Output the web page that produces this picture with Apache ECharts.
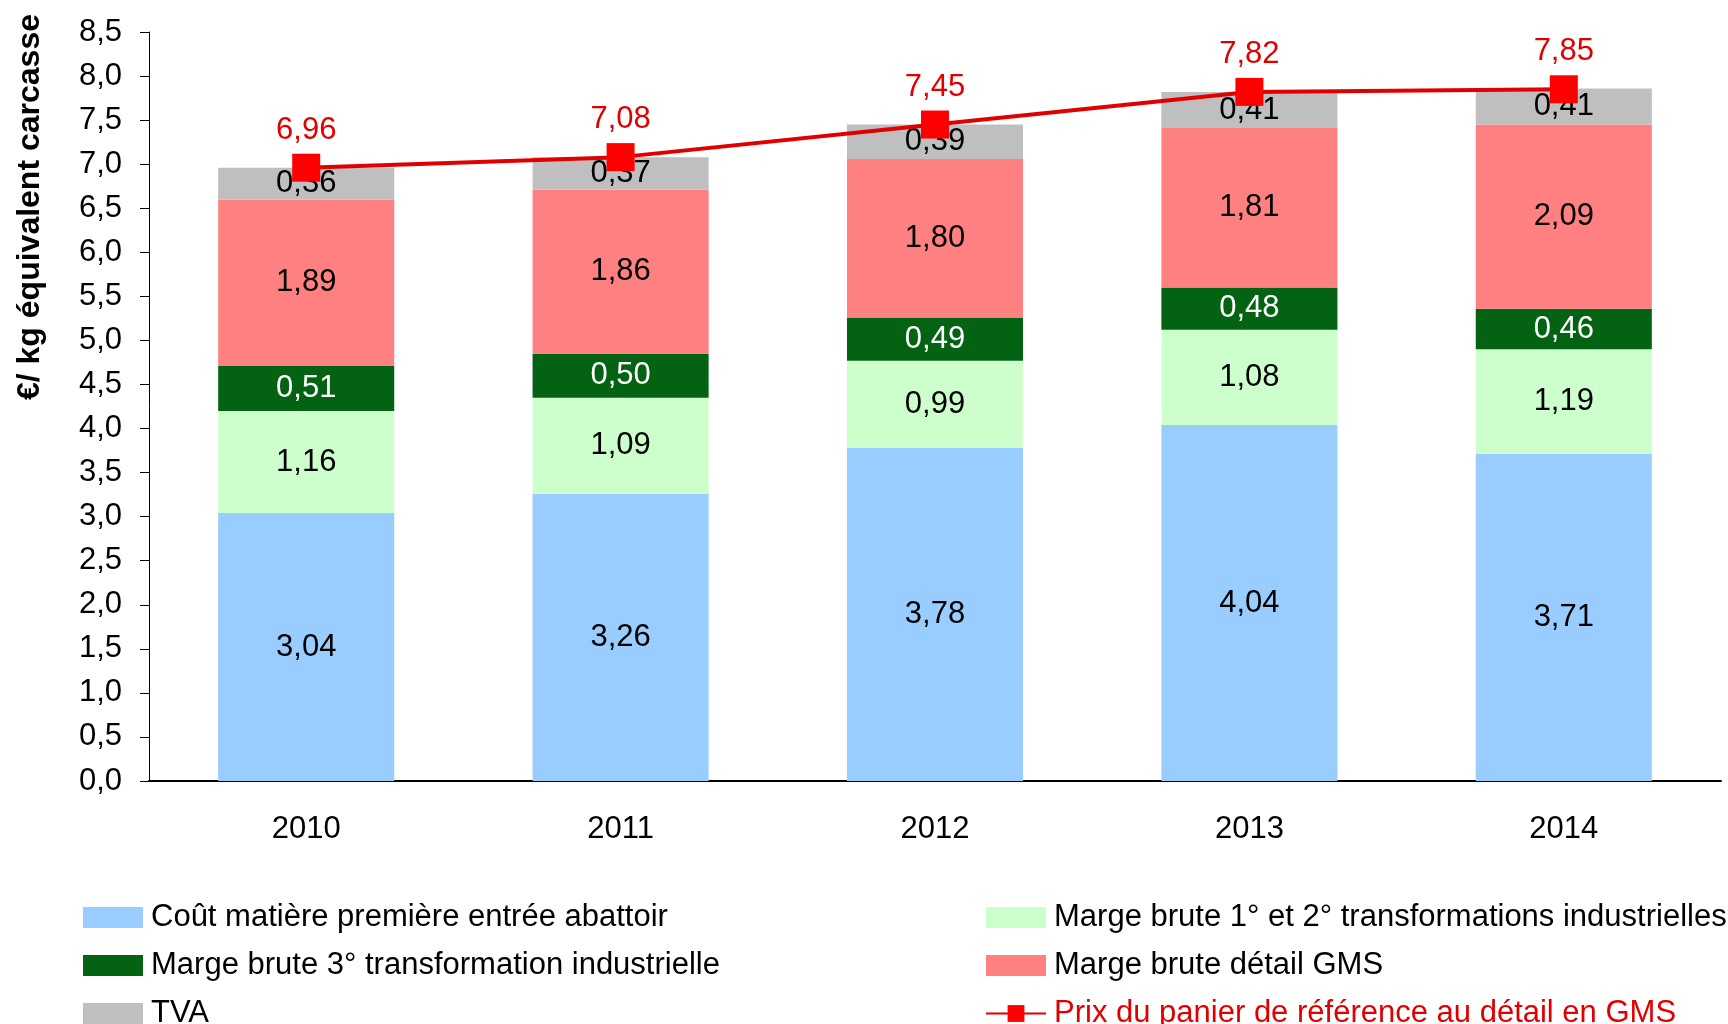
<!DOCTYPE html>
<html>
<head>
<meta charset="utf-8">
<script src="https://cdn.jsdelivr.net/npm/echarts@6/dist/echarts.min.js"></script>
<style>
  html, body { margin: 0; padding: 0; background: #fff; }
  #main { width: 1728px; height: 1024px; }
</style>
</head>
<body>
<div id="main"></div>
<script>
var years = ['2010', '2011', '2012', '2013', '2014'];
var coutMatiere = [3.04, 3.26, 3.78, 4.04, 3.71];
var marge12 = [1.16, 1.09, 0.99, 1.08, 1.19];
var marge3 = [0.51, 0.50, 0.49, 0.48, 0.46];
var margeGMS = [1.89, 1.86, 1.80, 1.81, 2.09];
var tva = [0.36, 0.37, 0.39, 0.41, 0.41];
var prixPanier = [6.96, 7.08, 7.45, 7.82, 7.85];

var FONT = '"Liberation Sans", Arial, sans-serif';

function fr(v, d) {
  return v.toFixed(d).replace('.', ',');
}

function barSerie(name, data, color, labelColor) {
  return {
    name: name,
    type: 'bar',
    stack: 'total',
    barWidth: '56%',
    itemStyle: { color: color },
    label: {
      show: true,
      position: 'inside',
      color: labelColor,
      fontSize: 31,
      fontFamily: FONT,
      formatter: function (p) { return fr(p.value, 2); }
    },
    data: data
  };
}

function legendBox(left, items) {
  return {
    orient: 'vertical',
    left: left,
    top: 902,
    height: 160,
    padding: 0,
    itemWidth: 60,
    itemHeight: 21,
    itemGap: 17,
    textStyle: { fontSize: 31, lineHeight: 31, color: '#000', fontFamily: FONT, padding: [0, 0, 0, 3] },
    data: items
  };
}

var chart = echarts.init(document.getElementById('main'));

var option = {
  animation: false,
  textStyle: { fontFamily: FONT },
  grid: { left: 149, right: 7, top: 32, bottom: 243 },
  graphic: [{
    type: 'text',
    x: 30,
    y: 207,
    rotation: Math.PI / 2,
    style: {
      text: '€/ kg équivalent carcasse',
      font: 'bold 32px ' + FONT,
      fill: '#000',
      textAlign: 'center',
      textVerticalAlign: 'middle'
    }
  }],
  legend: [
    legendBox(83, [
      { name: 'Coût matière première entrée abattoir', icon: 'rect' },
      { name: 'Marge brute 3° transformation industrielle', icon: 'rect' },
      { name: 'TVA', icon: 'rect' }
    ]),
    legendBox(985, [
      { name: 'Marge brute 1° et 2° transformations industrielles', icon: 'rect' },
      { name: 'Marge brute détail GMS', icon: 'rect' },
      { name: 'Prix du panier de référence au détail en GMS', textStyle: { color: '#e00000' } }
    ])
  ],
  xAxis: {
    type: 'category',
    data: years,
    axisLine: { lineStyle: { color: '#000', width: 2 } },
    axisTick: { show: false },
    axisLabel: { fontSize: 31, color: '#000', margin: 33, fontFamily: FONT }
  },
  yAxis: {
    type: 'value',
    min: 0,
    max: 8.5,
    interval: 0.5,
    axisLine: { show: true, lineStyle: { color: '#000', width: 1 } },
    axisTick: { show: true, length: 9, lineStyle: { color: '#000' } },
    splitLine: { show: false },
    axisLabel: {
      fontSize: 31,
      color: '#000',
      margin: 27,
      fontFamily: FONT,
      formatter: function (v) { return fr(v, 1); }
    }
  },
  series: [
    barSerie('Coût matière première entrée abattoir', coutMatiere, '#99ccff', '#000'),
    barSerie('Marge brute 1° et 2° transformations industrielles', marge12, '#ccffcc', '#000'),
    barSerie('Marge brute 3° transformation industrielle', marge3, '#046313', '#fff'),
    barSerie('Marge brute détail GMS', margeGMS, '#ff8080', '#000'),
    barSerie('TVA', tva, '#bfbfbf', '#000'),
    {
      name: 'Prix du panier de référence au détail en GMS',
      type: 'line',
      z: 5,
      symbol: 'rect',
      symbolSize: 28,
      lineStyle: { color: '#e00000', width: 4 },
      itemStyle: { color: '#ff0000' },
      label: {
        show: true,
        position: 'top',
        distance: 8,
        color: '#e00000',
        fontSize: 31,
        fontFamily: FONT,
        formatter: function (p) { return fr(p.value, 2); }
      },
      data: prixPanier
    }
  ]
};

chart.setOption(option);
</script>
</body>
</html>
